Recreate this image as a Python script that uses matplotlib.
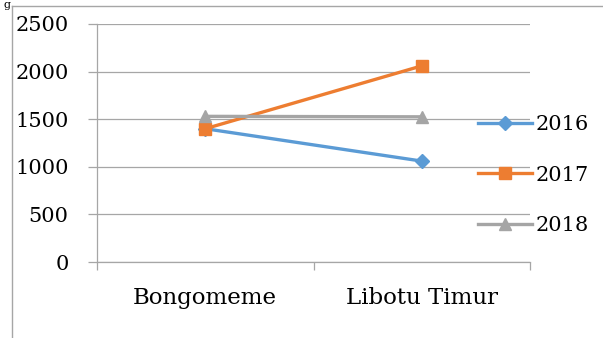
import matplotlib.pyplot as plt
from matplotlib.lines import Line2D

categories = ["Bongomeme", "Libotu Timur"]
years = ["2016", "2017", "2018"]
v2016 = [1400, 1060]
v2017 = [1400, 2060]
v2018 = [1530, 1525]
yticks = [0, 500, 1000, 1500, 2000, 2500]

plt.rcParams['font.family'] = ['DejaVu Serif']

fig = plt.figure(figsize=(6.03, 3.38), dpi=100)
ax = fig.add_axes([97/603, 1-262/338, 433/603, 238/338])

grid_c = "#A6A6A6"
xs = [0.5, 1.5]
ax.plot(xs, v2016, color="#5B9BD5", lw=2.4, marker="D", ms=7, label=years[0], zorder=3)
ax.plot(xs, v2017, color="#ED7D31", lw=2.4, marker="s", ms=9, label=years[1], zorder=3)
ax.plot(xs, v2018, color="#A5A5A5", lw=2.4, marker="^", ms=9, label=years[2], zorder=3)

ax.set_xlim(0, 2)
ax.set_ylim(0, 2500)
ax.set_yticks(yticks)
ax.set_xticks(xs)
ax.set_xticklabels(categories)
ax.set_xticks([0, 1, 2], minor=True)
ax.tick_params(axis="x", which="major", length=0, pad=18, labelsize=16.5)
ax.tick_params(axis="x", which="minor", length=6, color=grid_c, width=0.9, direction="out")
ax.tick_params(axis="y", length=6.5, color=grid_c, width=0.9, pad=14, labelsize=15)
ax.grid(axis="y", color=grid_c, lw=0.9, zorder=0)
for s in ["top", "right"]:
    ax.spines[s].set_visible(False)
for s in ["left", "bottom"]:
    ax.spines[s].set_color(grid_c)
    ax.spines[s].set_linewidth(0.9)

leg = ax.legend(loc="center left", bbox_to_anchor=(0.88, 0.365), frameon=False,
                fontsize=15, handlelength=2.6, handletextpad=0.15, labelspacing=1.5,
                borderpad=0, borderaxespad=0)

# page frame lines around the chart
fig.add_artist(Line2D([12/603, 12/603], [0, 1-6/338], color=grid_c, lw=1))
fig.add_artist(Line2D([12/603, 1], [1-6/338, 1-6/338], color=grid_c, lw=1))
fig.text(4/603, 1.0, "g", fontsize=8, va="top", ha="left")

fig.savefig("out.png", dpi=100)
